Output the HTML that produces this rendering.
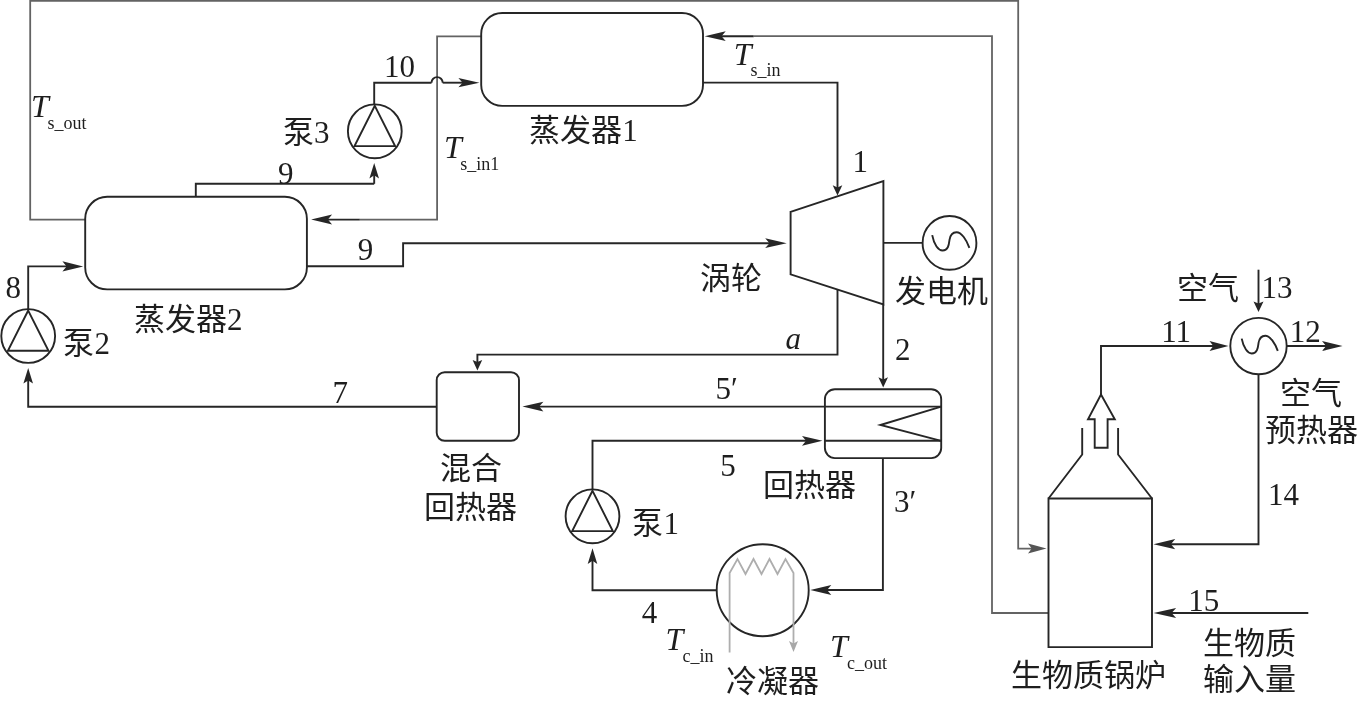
<!DOCTYPE html>
<html lang="zh-CN"><head><meta charset="utf-8"><title>diagram</title>
<style>
html,body{margin:0;padding:0;background:#fff;width:1364px;height:701px;overflow:hidden}
svg{display:block;will-change:transform;font-family:"Liberation Serif",serif}
</style></head><body>
<svg width="1364" height="701" viewBox="0 0 1364 701">
<path d="M85.2 219.6 L30.2 219.6 L30.2 0.9 L1018.2 0.9 L1018.2 548.6 L1032.7 548.6" fill="none" stroke="#636363" stroke-width="1.8" stroke-linejoin="miter" stroke-linecap="butt"/>
<path d="M1046.5 548.6 L1028.0 553.6 L1031.7 548.6 L1028.0 543.6Z" fill="#555555" stroke="none"/>
<path d="M1048.5 613.0 L992.0 613.0 L992.0 36.2 L753.7 36.2" fill="none" stroke="#636363" stroke-width="1.8" stroke-linejoin="miter" stroke-linecap="butt"/>
<path d="M753.7 36.2 L720.5 36.2" fill="none" stroke="#262626" stroke-width="1.9" stroke-linejoin="miter" stroke-linecap="butt"/>
<path d="M704.7 36.2 L725.7 31.3 L721.5 36.2 L725.7 41.1Z" fill="#262626" stroke="none"/>
<path d="M481.2 36.3 L437.1 36.3 L437.1 219.6 L359.8 219.6" fill="none" stroke="#636363" stroke-width="1.8" stroke-linejoin="miter" stroke-linecap="butt"/>
<path d="M359.8 219.6 L326.9 219.6" fill="none" stroke="#262626" stroke-width="1.9" stroke-linejoin="miter" stroke-linecap="butt"/>
<path d="M311.1 219.6 L332.1 214.6 L327.9 219.6 L332.1 224.6Z" fill="#262626" stroke="none"/>
<rect x="481.2" y="13.0" width="221.8" height="92.9" rx="21" ry="21" fill="none" stroke="#262626" stroke-width="1.9"/>
<rect x="85.2" y="196.8" width="221.7" height="92.6" rx="22" ry="22" fill="none" stroke="#262626" stroke-width="1.9"/>
<path d="M790.6 211.8 L883.4 181 L883.4 304.5 L790.6 274.4 Z" fill="none" stroke="#262626" stroke-width="1.9" stroke-linejoin="miter"/>
<circle cx="949.5" cy="242.9" r="26.9" fill="none" stroke="#262626" stroke-width="1.9"/>
<path d="M932.2 235.2 C934.0 244.9 938.5 250.5 942.5 250.5 C948.5 250.5 949.0 243.9 949.5 239.9 C950.3 234.4 952.5 232.2 956.5 232.2 C961.5 232.2 966.5 239.9 969.4 247.8" fill="none" stroke="#262626" stroke-width="1.9"/>
<rect x="436.7" y="372.2" width="82.3" height="68.6" rx="8" ry="8" fill="none" stroke="#262626" stroke-width="1.9"/>
<rect x="824.9" y="389.2" width="116.3" height="68.9" rx="10" ry="10" fill="none" stroke="#262626" stroke-width="1.9"/>
<path d="M824.9 406.6 L941.2 406.6" fill="none" stroke="#262626" stroke-width="1.9" stroke-linejoin="miter" stroke-linecap="butt"/>
<path d="M824.9 440.8 L941.2 440.8" fill="none" stroke="#262626" stroke-width="1.9" stroke-linejoin="miter" stroke-linecap="butt"/>
<path d="M941.2 406.6 L880.4 425.0 L941.2 440.8" fill="none" stroke="#262626" stroke-width="1.9" stroke-linejoin="miter" stroke-linecap="butt"/>
<circle cx="374.8" cy="131.3" r="26.9" fill="none" stroke="#262626" stroke-width="1.9"/>
<path d="M374.8 105.8 L354.5 146.1 L395.1 146.1 Z" fill="none" stroke="#262626" stroke-width="1.9" stroke-linejoin="miter"/>
<circle cx="28.2" cy="336.0" r="26.9" fill="none" stroke="#262626" stroke-width="1.9"/>
<path d="M28.2 310.5 L7.9 350.8 L48.5 350.8 Z" fill="none" stroke="#262626" stroke-width="1.9" stroke-linejoin="miter"/>
<circle cx="592.5" cy="516.3" r="26.9" fill="none" stroke="#262626" stroke-width="1.9"/>
<path d="M592.5 490.8 L572.2 531.1 L612.8 531.1 Z" fill="none" stroke="#262626" stroke-width="1.9" stroke-linejoin="miter"/>
<circle cx="762.7" cy="590.2" r="46.0" fill="none" stroke="#262626" stroke-width="1.9"/>
<path d="M729.6 652.4 L729.6 573 L737.5 559 L745.5 574 L753.5 559 L761.5 574 L769.5 559 L777.5 574 L785.5 559 L793.5 573 L793.5 645" fill="none" stroke="#aeaeae" stroke-width="1.8" stroke-linejoin="miter"/>
<path d="M793.5 652.0 L789.0 641.0 L793.5 643.5 L798.0 641.0Z" fill="#a8a8a8" stroke="none"/>
<path d="M1048.5 498.5 L1152 498.5 L1152 647.1 L1048.5 647.1 Z" fill="none" stroke="#262626" stroke-width="1.9"/>
<path d="M1048.5 498.5 L1082.2 454.5 L1082.2 428.0" fill="none" stroke="#262626" stroke-width="1.9" stroke-linejoin="miter" stroke-linecap="butt"/>
<path d="M1152.0 498.5 L1118.1 454.5 L1118.1 428.0" fill="none" stroke="#262626" stroke-width="1.9" stroke-linejoin="miter" stroke-linecap="butt"/>
<path d="M1094.7 447.8 L1107.6 447.8 L1107.6 419.3 L1114.8 419.3 L1101 394.6 L1088 419.3 L1094.7 419.3 Z" fill="none" stroke="#262626" stroke-width="1.9" stroke-linejoin="miter"/>
<circle cx="1258.5" cy="346.1" r="28.2" fill="none" stroke="#262626" stroke-width="1.9"/>
<path d="M1241.7 338.6 C1243.5 348.0 1247.8 353.5 1251.7 353.5 C1257.5 353.5 1258.0 347.1 1258.5 343.2 C1259.3 337.9 1261.4 335.7 1265.3 335.7 C1270.1 335.7 1275.0 343.2 1277.8 350.9" fill="none" stroke="#262626" stroke-width="1.9"/>
<path d="M703.0 82.6 L837.5 82.6 L837.5 188.4" fill="none" stroke="#262626" stroke-width="1.9" stroke-linejoin="miter" stroke-linecap="butt"/>
<path d="M837.5 195.6 L832.7 185.3 L837.5 187.4 L842.3 185.3Z" fill="#262626" stroke="none"/>
<path d="M195.8 196.8 L195.8 183.8 L374.2 183.8" fill="none" stroke="#262626" stroke-width="1.9" stroke-linejoin="miter" stroke-linecap="butt"/>
<path d="M374.2 183.8 L374.2 174.3" fill="none" stroke="#262626" stroke-width="1.9" stroke-linejoin="miter" stroke-linecap="butt"/>
<path d="M374.2 163.0 L379.0 178.4 L374.2 175.3 L369.4 178.4Z" fill="#262626" stroke="none"/>
<path d="M374.2 104.5 L374.2 82.7 L431.5 82.7" fill="none" stroke="#262626" stroke-width="1.9" stroke-linejoin="miter" stroke-linecap="butt"/>
<path d="M431.5 82.7 A5.6 5.6 0 0 1 442.7 82.7" fill="none" stroke="#262626" stroke-width="1.9"/>
<path d="M442.7 82.7 L463.6 82.7" fill="none" stroke="#262626" stroke-width="1.9" stroke-linejoin="miter" stroke-linecap="butt"/>
<path d="M479.4 82.7 L458.4 87.3 L462.6 82.7 L458.4 78.1Z" fill="#262626" stroke="none"/>
<path d="M306.9 266.2 L403.1 266.2 L403.1 243.2 L770.5 243.2" fill="none" stroke="#262626" stroke-width="1.9" stroke-linejoin="miter" stroke-linecap="butt"/>
<path d="M786.7 243.2 L765.2 248.1 L769.5 243.2 L765.2 238.3Z" fill="#262626" stroke="none"/>
<path d="M883.4 242.9 L922.9 242.9" fill="none" stroke="#262626" stroke-width="1.9" stroke-linejoin="miter" stroke-linecap="butt"/>
<path d="M837.5 289.6 L837.5 354.6 L477.4 354.6 L477.4 363.1" fill="none" stroke="#262626" stroke-width="1.9" stroke-linejoin="miter" stroke-linecap="butt"/>
<path d="M477.4 370.5 L472.6 360.0 L477.4 362.1 L482.2 360.0Z" fill="#262626" stroke="none"/>
<path d="M883.2 304.5 L883.2 380.4" fill="none" stroke="#262626" stroke-width="1.9" stroke-linejoin="miter" stroke-linecap="butt"/>
<path d="M883.2 387.6 L878.4 377.3 L883.2 379.4 L888.0 377.3Z" fill="#262626" stroke="none"/>
<path d="M824.9 406.6 L538.2 406.6" fill="none" stroke="#262626" stroke-width="1.9" stroke-linejoin="miter" stroke-linecap="butt"/>
<path d="M522.4 406.6 L543.4 401.7 L539.2 406.6 L543.4 411.5Z" fill="#262626" stroke="none"/>
<path d="M436.7 406.8 L28.2 406.8 L28.2 379.4" fill="none" stroke="#262626" stroke-width="1.9" stroke-linejoin="miter" stroke-linecap="butt"/>
<path d="M28.2 368.1 L33.0 383.5 L28.2 380.4 L23.4 383.5Z" fill="#262626" stroke="none"/>
<path d="M28.2 309.0 L28.2 266.4 L67.6 266.4" fill="none" stroke="#262626" stroke-width="1.9" stroke-linejoin="miter" stroke-linecap="butt"/>
<path d="M83.2 266.4 L62.4 271.5 L66.6 266.4 L62.4 261.3Z" fill="#262626" stroke="none"/>
<path d="M592.5 489.9 L592.5 440.8 L807.1 440.8" fill="none" stroke="#262626" stroke-width="1.9" stroke-linejoin="miter" stroke-linecap="butt"/>
<path d="M822.5 440.8 L802.0 445.7 L806.1 440.8 L802.0 435.9Z" fill="#262626" stroke="none"/>
<path d="M882.9 458.1 L882.9 590.0 L826.1 590.0" fill="none" stroke="#262626" stroke-width="1.9" stroke-linejoin="miter" stroke-linecap="butt"/>
<path d="M810.3 590.0 L831.3 585.1 L827.1 590.0 L831.3 594.9Z" fill="#262626" stroke="none"/>
<path d="M716.7 590.2 L592.5 590.2 L592.5 559.8" fill="none" stroke="#262626" stroke-width="1.9" stroke-linejoin="miter" stroke-linecap="butt"/>
<path d="M592.5 548.3 L597.3 563.9 L592.5 560.8 L587.7 563.9Z" fill="#262626" stroke="none"/>
<path d="M1101.0 394.6 L1101.0 346.0 L1214.3 346.0" fill="none" stroke="#262626" stroke-width="1.9" stroke-linejoin="miter" stroke-linecap="butt"/>
<path d="M1228.5 346.0 L1209.5 350.9 L1213.3 346.0 L1209.5 341.1Z" fill="#262626" stroke="none"/>
<path d="M1286.7 346.0 L1327.1 346.0" fill="none" stroke="#262626" stroke-width="1.9" stroke-linejoin="miter" stroke-linecap="butt"/>
<path d="M1342.6 346.0 L1322.0 350.9 L1326.1 346.0 L1322.0 341.1Z" fill="#262626" stroke="none"/>
<path d="M1258.5 269.7 L1258.5 304.5" fill="none" stroke="#262626" stroke-width="1.9" stroke-linejoin="miter" stroke-linecap="butt"/>
<path d="M1258.5 312.1 L1253.5 301.4 L1258.5 303.5 L1263.5 301.4Z" fill="#262626" stroke="none"/>
<path d="M1258.5 374.3 L1258.5 544.2 L1169.9 544.2" fill="none" stroke="#262626" stroke-width="1.9" stroke-linejoin="miter" stroke-linecap="butt"/>
<path d="M1153.5 544.2 L1175.2 539.1 L1170.9 544.2 L1175.2 549.3Z" fill="#262626" stroke="none"/>
<path d="M1308.3 613.0 L1170.6 613.0" fill="none" stroke="#262626" stroke-width="1.9" stroke-linejoin="miter" stroke-linecap="butt"/>
<path d="M1153.6 613.0 L1176.1 607.9 L1171.6 613.0 L1176.1 618.1Z" fill="#262626" stroke="none"/>
<text x="30.9" y="116.9" font-size="32" text-anchor="start" fill="#1e1e1e" font-style="italic">T</text>
<text x="47.6" y="129.3" font-size="18" text-anchor="start" fill="#1e1e1e" >s_out</text>
<text x="444.1" y="158.0" font-size="32" text-anchor="start" fill="#1e1e1e" font-style="italic">T</text>
<text x="460.3" y="170.3" font-size="18" text-anchor="start" fill="#1e1e1e" >s_in1</text>
<text x="733.7" y="65.0" font-size="32" text-anchor="start" fill="#1e1e1e" font-style="italic">T</text>
<text x="750.4" y="75.9" font-size="18" text-anchor="start" fill="#1e1e1e" >s_in</text>
<text x="665.5" y="649.8" font-size="32" text-anchor="start" fill="#1e1e1e" font-style="italic">T</text>
<text x="682.5" y="662.1" font-size="18" text-anchor="start" fill="#1e1e1e" >c_in</text>
<text x="830.1" y="657.1" font-size="32" text-anchor="start" fill="#1e1e1e" font-style="italic">T</text>
<text x="847.0" y="668.5" font-size="18" text-anchor="start" fill="#1e1e1e" >c_out</text>
<text x="384.1" y="76.5" font-size="31" text-anchor="start" fill="#1e1e1e" >10</text>
<text x="283.1" y="143.4" font-size="31" text-anchor="start" fill="#1e1e1e" >泵3</text>
<text x="278.0" y="183.9" font-size="31" text-anchor="start" fill="#1e1e1e" >9</text>
<text x="529.2" y="141.1" font-size="31" text-anchor="start" fill="#1e1e1e" >蒸发器1</text>
<text x="852.6" y="172.3" font-size="31" text-anchor="start" fill="#1e1e1e" >1</text>
<text x="5.4" y="297.9" font-size="31" text-anchor="start" fill="#1e1e1e" >8</text>
<text x="63.4" y="354.4" font-size="31" text-anchor="start" fill="#1e1e1e" >泵2</text>
<text x="133.9" y="329.6" font-size="31" text-anchor="start" fill="#1e1e1e" >蒸发器2</text>
<text x="357.8" y="260.1" font-size="31" text-anchor="start" fill="#1e1e1e" >9</text>
<text x="699.6" y="288.9" font-size="31" text-anchor="start" fill="#1e1e1e" >涡轮</text>
<text x="895.2" y="302.4" font-size="31" text-anchor="start" fill="#1e1e1e" >发电机</text>
<text x="785.5" y="349.4" font-size="31" text-anchor="start" fill="#1e1e1e" font-style="italic">a</text>
<text x="894.9" y="360.0" font-size="31" text-anchor="start" fill="#1e1e1e" >2</text>
<text x="715.6" y="399.2" font-size="31" text-anchor="start" fill="#1e1e1e" >5′</text>
<text x="332.4" y="403.3" font-size="31" text-anchor="start" fill="#1e1e1e" >7</text>
<text x="439.7" y="479.2" font-size="31" text-anchor="start" fill="#1e1e1e" >混合</text>
<text x="424.4" y="517.8" font-size="31" text-anchor="start" fill="#1e1e1e" >回热器</text>
<text x="720.3" y="475.5" font-size="31" text-anchor="start" fill="#1e1e1e" >5</text>
<text x="762.8" y="496.2" font-size="31" text-anchor="start" fill="#1e1e1e" >回热器</text>
<text x="893.9" y="512.1" font-size="31" text-anchor="start" fill="#1e1e1e" >3′</text>
<text x="632.4" y="534.3" font-size="31" text-anchor="start" fill="#1e1e1e" >泵1</text>
<text x="641.8" y="622.5" font-size="31" text-anchor="start" fill="#1e1e1e" >4</text>
<text x="726.3" y="692.4" font-size="31" text-anchor="start" fill="#1e1e1e" >冷凝器</text>
<text x="1177.4" y="298.6" font-size="31" text-anchor="start" fill="#1e1e1e" >空气</text>
<text x="1261.4" y="297.6" font-size="31" text-anchor="start" fill="#1e1e1e" >13</text>
<text x="1161.2" y="341.6" font-size="31" text-anchor="start" fill="#1e1e1e" >11</text>
<text x="1289.8" y="341.6" font-size="31" text-anchor="start" fill="#1e1e1e" >12</text>
<text x="1279.7" y="403.5" font-size="31" text-anchor="start" fill="#1e1e1e" >空气</text>
<text x="1264.7" y="440.8" font-size="31" text-anchor="start" fill="#1e1e1e" >预热器</text>
<text x="1268.1" y="505.2" font-size="31" text-anchor="start" fill="#1e1e1e" >14</text>
<text x="1188.2" y="610.7" font-size="31" text-anchor="start" fill="#1e1e1e" >15</text>
<text x="1202.7" y="653.8" font-size="31" text-anchor="start" fill="#1e1e1e" >生物质</text>
<text x="1202.8" y="690.0" font-size="31" text-anchor="start" fill="#1e1e1e" >输入量</text>
<text x="1010.7" y="685.9" font-size="31" text-anchor="start" fill="#1e1e1e" >生物质锅炉</text>
</svg>
</body></html>
